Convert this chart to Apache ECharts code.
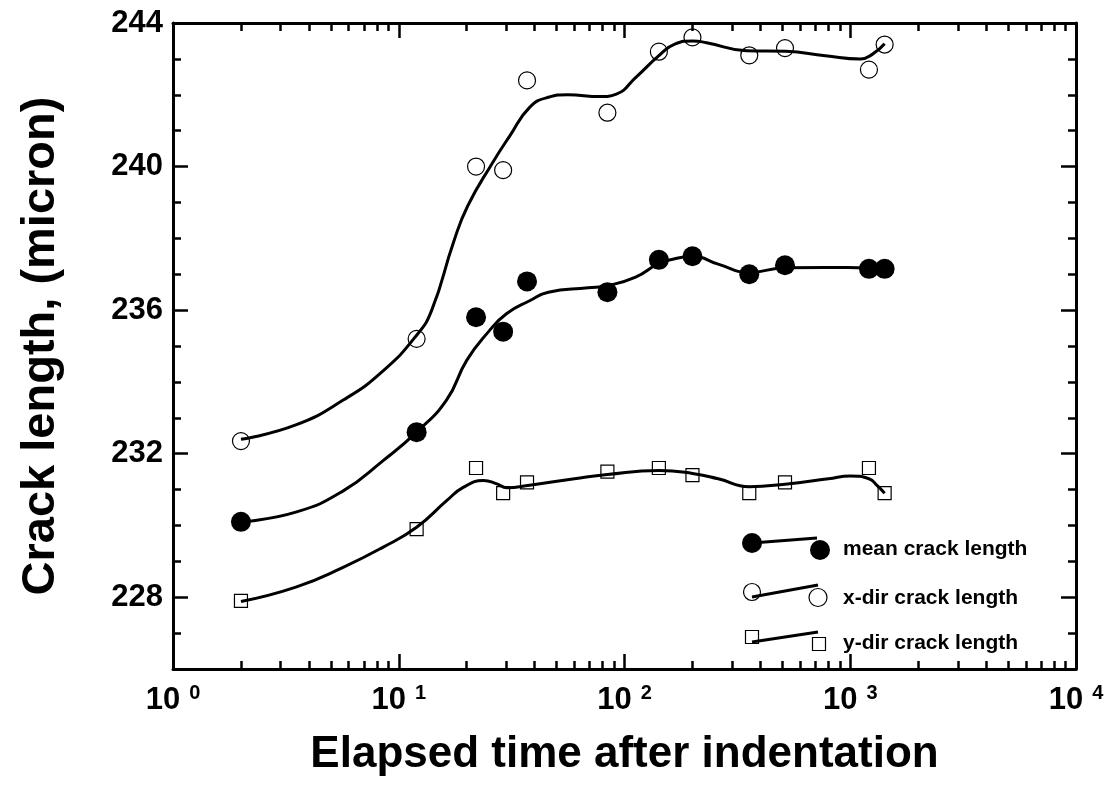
<!DOCTYPE html>
<html>
<head>
<meta charset="utf-8">
<title>Crack length vs elapsed time</title>
<script src="https://cdn.jsdelivr.net/npm/echarts@6/dist/echarts.min.js"></script>
<style>
  html, body { margin: 0; padding: 0; background: #fff; }
  #main { width: 1113px; height: 787px; }
</style>
</head>
<body>
<div id="main"></div>
<script>
// ---------- 测量点 ----------
var times = [2, 12, 22, 29, 37, 84, 142, 200, 357, 514, 1210, 1420];
var meanLen = [230.1, 232.6, 235.8, 235.4, 236.8, 236.5, 237.4, 237.5, 237.0, 237.25, 237.15, 237.15];
var xDirLen = [232.35, 235.2, 240.0, 239.9, 242.4, 241.5, 243.2, 243.6, 243.1, 243.3, 242.7, 243.4];
var yDirLen = [227.9, 229.9, 231.6, 230.9, 231.2, 231.5, 231.6, 231.4, 230.9, 231.2, 231.6, 230.9];

// ---------- 拟合曲线 ----------
var meanCurveT = [2, 3.5, 5.7, 8.5, 12, 16.3, 20, 25, 30, 38, 46, 69, 84, 112, 142, 167, 201, 260, 357, 514, 775, 1210, 1420];
var meanCurveV = [230.1, 230.37, 230.97, 231.8, 232.6, 233.5, 234.6, 235.4, 235.9, 236.26, 236.5, 236.62, 236.68, 236.92, 237.3, 237.43, 237.5, 237.28, 237.05, 237.18, 237.19, 237.18, 237.18];
var xDirCurveT = [2, 3.5, 5.7, 8.5, 12, 14, 17.5, 20.2, 26, 31, 38, 46, 56, 78, 92, 112, 142, 167, 201, 231, 346, 518, 775, 1110, 1260, 1420];
var xDirCurveV = [232.4, 232.8, 233.5, 234.3, 235.3, 236.0, 237.9, 238.9, 240.1, 240.85, 241.65, 241.93, 242.0, 241.95, 242.02, 242.48, 243.09, 243.41, 243.5, 243.45, 243.23, 243.21, 243.09, 243.0, 243.14, 243.42];
var yDirCurveT = [2, 3.5, 5.7, 8.5, 12, 16.3, 19.3, 23.7, 27.2, 30.1, 38, 60, 84, 142, 200, 260, 357, 514, 800, 1000, 1210, 1320, 1420];
var yDirCurveV = [227.88, 228.28, 228.84, 229.39, 229.95, 230.69, 231.06, 231.25, 231.16, 231.05, 231.12, 231.3, 231.42, 231.53, 231.45, 231.3, 231.08, 231.15, 231.3, 231.38, 231.3, 231.1, 230.9];

// ---------- 刻度 ----------
var yMajorTicks = [228, 232, 236, 240, 244];
var xMinorTicks = [2, 3, 4, 5, 6, 7, 8, 9, 20, 30, 40, 50, 60, 70, 80, 90,
  200, 300, 400, 500, 600, 700, 800, 900, 2000, 3000, 4000, 5000, 6000, 7000, 8000, 9000];

var seriesNames = ["mean crack length", "x-dir crack length", "y-dir crack length"];

var FONT = '"Liberation Sans", Arial, sans-serif';

function pairs(xs, ys) {
  var out = [];
  for (var i = 0; i < xs.length; i++) {
    out.push([xs[i], ys[i]]);
  }
  return out;
}

var chart = echarts.init(document.getElementById("main"));

// 坐标轴（四周都有刻度，刻度朝内）
function xAxisMajor(pos, withLabel) {
  return {
    type: "log",
    logBase: 10,
    min: 1,
    max: 10000,
    position: pos,
    axisLine: { show: true, onZero: false, lineStyle: { color: "#000", width: 3 } },
    axisTick: { show: true, inside: true, length: 15, lineStyle: { color: "#000", width: 2.5 } },
    splitLine: { show: false },
    axisLabel: {
      show: withLabel,
      margin: 14,
      formatter: function (value) {
        var e = Math.round(Math.log(value) / Math.LN10);
        return "{b|10}{s|" + e + "}";
      },
      rich: {
        b: { fontSize: 31, fontWeight: "bold", fontFamily: FONT, color: "#000", lineHeight: 34 },
        s: { fontSize: 20, fontWeight: "bold", fontFamily: FONT, color: "#000", lineHeight: 22,
             verticalAlign: "top", padding: [0, 0, 0, 9] },
      },
    },
  };
}

function xAxisMinor(pos) {
  return {
    type: "log",
    logBase: 10,
    min: 1,
    max: 10000,
    position: pos,
    axisLine: { show: false, onZero: false },
    axisTick: { show: true, inside: true, length: 8, customValues: xMinorTicks,
                lineStyle: { color: "#000", width: 2.5 } },
    axisLabel: { show: false },
    splitLine: { show: false },
  };
}

function yAxisMajor(pos, withLabel) {
  return {
    type: "value",
    min: 226,
    max: 244,
    position: pos,
    axisLine: { show: true, onZero: false, lineStyle: { color: "#000", width: 3 } },
    axisTick: { show: true, inside: true, length: 15, customValues: yMajorTicks,
                lineStyle: { color: "#000", width: 2.5 } },
    axisLabel: {
      show: withLabel,
      customValues: yMajorTicks,
      margin: 10,
      color: "#000",
      fontSize: 31,
      fontWeight: "bold",
      fontFamily: FONT,
    },
    splitLine: { show: false },
  };
}

function yAxisMinor(pos) {
  return {
    type: "value",
    min: 226,
    max: 244,
    interval: 1,
    position: pos,
    axisLine: { show: false, onZero: false },
    axisTick: { show: true, inside: true, length: 8, lineStyle: { color: "#000", width: 2.5 } },
    axisLabel: { show: false },
    splitLine: { show: false },
  };
}

var xBottom = xAxisMajor("bottom", true);
xBottom.name = "Elapsed time after indentation";
xBottom.nameLocation = "middle";
xBottom.nameGap = 64;
xBottom.nameTextStyle = { fontSize: 44, fontWeight: "bold", fontFamily: FONT, color: "#000" };

var yLeft = yAxisMajor("left", true);
yLeft.name = "Crack length, (micron)";
yLeft.nameLocation = "middle";
yLeft.nameGap = 108;
yLeft.nameTextStyle = { fontSize: 47, fontWeight: "bold", fontFamily: FONT, color: "#000" };

// 图例：点-线-点 的样式，用 graphic 画
var legendX1 = 752, legendX2 = 819, legendTextX = 843;
var legendRows = [543, 592, 637];
var legendGraphic = [
  { type: "line", shape: { x1: legendX1, y1: legendRows[0], x2: legendX2 - 2, y2: legendRows[0] - 5 },
    style: { stroke: "#000", lineWidth: 3 } },
  { type: "circle", shape: { cx: legendX1, cy: legendRows[0], r: 10 }, style: { fill: "#000" } },
  { type: "circle", shape: { cx: legendX2 + 1, cy: legendRows[0] + 7, r: 10 }, style: { fill: "#000" } },

  { type: "line", shape: { x1: legendX1, y1: legendRows[1] + 5, x2: legendX2 - 1, y2: legendRows[1] - 7 },
    style: { stroke: "#000", lineWidth: 3 } },
  { type: "circle", shape: { cx: legendX1, cy: legendRows[1], r: 8.5 },
    style: { fill: "none", stroke: "#000", lineWidth: 1.2 } },
  { type: "circle", shape: { cx: legendX2 - 1, cy: legendRows[1] + 5.5, r: 9 },
    style: { fill: "none", stroke: "#000", lineWidth: 1.2 } },

  { type: "line", shape: { x1: legendX1, y1: legendRows[2] + 5, x2: legendX2 - 1, y2: legendRows[2] - 5 },
    style: { stroke: "#000", lineWidth: 3 } },
  { type: "rect", shape: { x: legendX1 - 6.5, y: legendRows[2] - 6.5, width: 13, height: 13 },
    style: { fill: "none", stroke: "#000", lineWidth: 1.2 } },
  { type: "rect", shape: { x: legendX2 - 6.5, y: legendRows[2] + 0.5, width: 13, height: 13 },
    style: { fill: "none", stroke: "#000", lineWidth: 1.2 } },
];
for (var k = 0; k < seriesNames.length; k++) {
  legendGraphic.push({
    type: "text",
    style: {
      text: seriesNames[k],
      x: legendTextX,
      y: legendRows[k] + 6,
      verticalAlign: "middle",
      fill: "#000",
      font: "bold 21px " + FONT,
    },
  });
}

var option = {
  animation: false,
  backgroundColor: "#fff",
  grid: { left: 173, right: 37, top: 23, bottom: 118, containLabel: false, outerBoundsMode: "none" },
  xAxis: [xBottom, xAxisMinor("bottom"), xAxisMajor("top", false), xAxisMinor("top")],
  yAxis: [yLeft, yAxisMinor("left"), yAxisMajor("right", false), yAxisMinor("right")],
  graphic: legendGraphic,
  series: [
    // 拟合曲线
    { name: "mean fit", type: "line", smooth: true, symbol: "none", data: pairs(meanCurveT, meanCurveV),
      lineStyle: { color: "#000", width: 3 }, z: 2 },
    { name: "x-dir fit", type: "line", smooth: true, symbol: "none", data: pairs(xDirCurveT, xDirCurveV),
      lineStyle: { color: "#000", width: 3 }, z: 2 },
    { name: "y-dir fit", type: "line", smooth: true, symbol: "none", data: pairs(yDirCurveT, yDirCurveV),
      lineStyle: { color: "#000", width: 3 }, z: 2 },
    // 数据点
    { name: seriesNames[0], type: "scatter", symbol: "circle", symbolSize: 20, data: pairs(times, meanLen),
      itemStyle: { color: "#000", opacity: 1 }, z: 3 },
    { name: seriesNames[1], type: "scatter", symbol: "circle", symbolSize: 17, data: pairs(times, xDirLen),
      itemStyle: { color: "rgba(0,0,0,0)", borderColor: "#000", borderWidth: 1.2, opacity: 1 }, z: 3 },
    { name: seriesNames[2], type: "scatter", symbol: "rect", symbolSize: 13, data: pairs(times, yDirLen),
      itemStyle: { color: "rgba(0,0,0,0)", borderColor: "#000", borderWidth: 1.2, opacity: 1 }, z: 3 },
  ],
};

chart.setOption(option);
</script>
</body>
</html>
